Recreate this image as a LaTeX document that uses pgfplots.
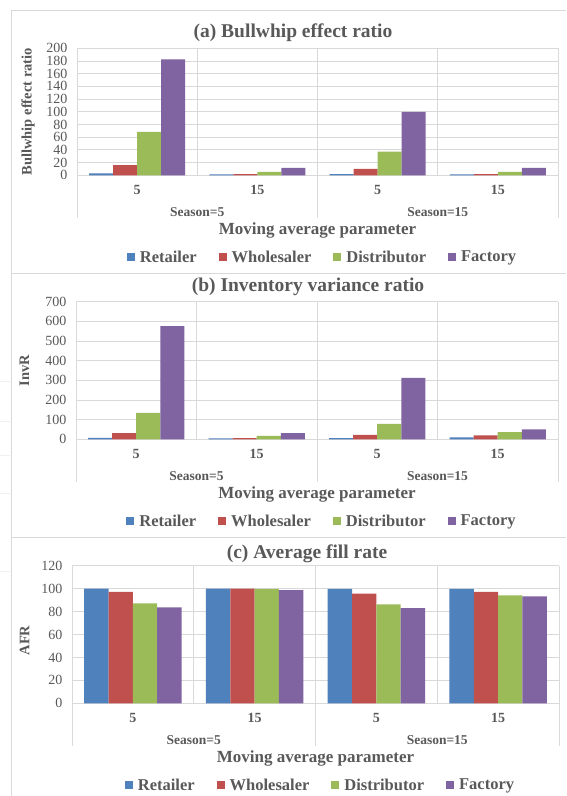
\documentclass[border=0pt]{standalone}
\usepackage{fontspec}
\setmainfont{Liberation Serif}
\usepackage{pgfplots}
\usepackage{pgfplotstable}
\pgfplotsset{compat=1.18}

\definecolor{txt}{HTML}{595959}
\definecolor{gridc}{HTML}{D9D9D9}
\definecolor{framec}{HTML}{D9D9D9}
\definecolor{cret}{HTML}{4F81BD}
\definecolor{cwho}{HTML}{C0504D}
\definecolor{cdis}{HTML}{9BBB59}
\definecolor{cfac}{HTML}{8064A2}

\newcommand{\fs}[1]{\fontsize{#1}{#1}\selectfont}

% columns: category position, retailer, wholesaler, distributor, factory
\pgfplotstableread{
x   ret  who   dis   fac
0.5 3.1  16.2  68.2  182.7
1.5 1.6  2.0   5.2   11.5
2.5 2.0  10.0  37.2  99.7
3.5 1.5  2.0   5.2   11.5
}\bwe
\pgfplotstableread{
x   ret  who  dis  fac
0.5 7    32   134  576
1.5 5    6    17   32
2.5 6    22   78   313
3.5 10   20   36   51
}\invr
\pgfplotstableread{
x   ret   who   dis   fac
0.5 100   97.1  87.2  83.7
1.5 100   100   99.7  98.8
2.5 99.7  95.6  86.3  83.1
3.5 99.7  97.1  94.2  93.3
}\afr

\pgfplotsset{
  panel/.style={
    scale only axis, anchor=south west,
    xmin=0, xmax=4, ymin=0,
    axis line style={draw=none},
    xtick={0.5,1.5,2.5,3.5}, xticklabels={5,15,5,15},
    minor xtick={0,1,2,3,4}, xminorgrids, ymajorgrids,
    grid style={gridc, line width=0.8pt},
    minor grid style={gridc, line width=0.8pt},
    major tick length=0pt, minor tick length=0pt,
    /pgf/number format/assume math mode=true,
    scaled y ticks=false,
    yticklabel style={font=\fs{14}, text=txt, xshift=-6pt},
    xticklabel style={font=\bfseries\fs{14}, text=txt, anchor=center, yshift=-15pt},
    ylabel style={font=\bfseries\fs{14.5}, text=txt, anchor=center},
    xlabel={Moving average parameter},
    xlabel style={font=\bfseries\fs{17}, text=txt, anchor=center,
      at={([yshift=-55pt]axis description cs:0.5,0)}},
    legend columns=4,
    legend style={draw=none, fill=none, anchor=center,
      at={([xshift=5pt, yshift=-82pt]axis description cs:0.5,0)},
      font=\bfseries\fs{16.5}, text=txt,
      /tikz/every odd column/.append style={column sep=3pt},
      /tikz/every even column/.append style={column sep=20pt}},
    legend image code/.code={\fill[#1] (0pt,-3.5pt) rectangle (8pt,4.5pt);},
    clip=false,
  },
  bars/.style={ybar, bar width=0.2, draw=none},
}

% season labels and the long separators of the two-level category axis
\newcommand{\seasons}{%
  \draw[gridc, line width=0.8pt] (axis cs:0,0) -- ++(0pt,-43pt);
  \draw[gridc, line width=0.8pt] (axis cs:2,0) -- ++(0pt,-43pt);
  \draw[gridc, line width=0.8pt] (axis cs:4,0) -- ++(0pt,-43pt);
  \node[font=\bfseries\fs{13.5}, text=txt, yshift=-36.5pt] at (axis cs:1,0) {Season=5};
  \node[font=\bfseries\fs{13.5}, text=txt, yshift=-36.5pt] at (axis cs:3,0) {Season=15};
}

\begin{document}
\begin{tikzpicture}
\useasboundingbox (0pt,0pt) rectangle (566pt,796pt);
\fill[white] (0pt,0pt) rectangle (566pt,796pt);

% faint sheet lines at the left margin
\foreach \yy in {414.3,374.3,341,303,224.3}
  \draw[gray!12, line width=0.8pt] (0pt,\yy pt) -- (10pt,\yy pt);

% panel frames
\draw[framec, line width=1pt] (11pt,785pt) -- (566pt,785pt);
\draw[framec, line width=1.2pt] (11pt,522.5pt) -- (566pt,522.5pt);
\draw[framec, line width=1.2pt] (11pt,258.3pt) -- (566pt,258.3pt);
\draw[framec, line width=1pt] (11pt,785pt) -- (11pt,0pt);

% (a) Bullwhip effect ratio
\begin{axis}[panel, at={(77pt,620.7pt)}, width=481pt, height=127pt,
  ymax=200, ytick distance=20,
  ylabel={Bullwhip effect ratio},
  ylabel style={at={([xshift=-49pt]axis description cs:0,0.5)}}]
\addplot[bars, fill=cret, bar shift=-0.3] table[x=x, y=ret] {\bwe};
\addplot[bars, fill=cwho, bar shift=-0.1] table[x=x, y=who] {\bwe};
\addplot[bars, fill=cdis, bar shift=0.1]  table[x=x, y=dis] {\bwe};
\addplot[bars, fill=cfac, bar shift=0.3]  table[x=x, y=fac] {\bwe};
\legend{Retailer, Wholesaler, Distributor, Factory}
\seasons
\end{axis}
\node[font=\bfseries\fs{19.5}, text=txt] at (293pt,763.7pt) {(a) Bullwhip effect ratio};

% (b) Inventory variance ratio
\begin{axis}[panel, at={(76pt,356.7pt)}, width=482pt, height=137.6pt,
  ymax=700, ytick distance=100,
  ylabel={InvR},
  ylabel style={at={([xshift=-51.5pt]axis description cs:0,0.5)}}]
\addplot[bars, fill=cret, bar shift=-0.3] table[x=x, y=ret] {\invr};
\addplot[bars, fill=cwho, bar shift=-0.1] table[x=x, y=who] {\invr};
\addplot[bars, fill=cdis, bar shift=0.1]  table[x=x, y=dis] {\invr};
\addplot[bars, fill=cfac, bar shift=0.3]  table[x=x, y=fac] {\invr};
\legend{Retailer, Wholesaler, Distributor, Factory}
\seasons
\end{axis}
\node[font=\bfseries\fs{19.5}, text=txt] at (308pt,508.7pt) {(b) Inventory variance ratio};

% (c) Average fill rate
\begin{axis}[panel, at={(72pt,92.7pt)}, width=487pt, height=137.6pt,
  ymax=120, ytick distance=20,
  ylabel={AFR},
  ylabel style={at={([xshift=-47.5pt, yshift=-6pt]axis description cs:0,0.5)}}]
\addplot[bars, fill=cret, bar shift=-0.3] table[x=x, y=ret] {\afr};
\addplot[bars, fill=cwho, bar shift=-0.1] table[x=x, y=who] {\afr};
\addplot[bars, fill=cdis, bar shift=0.1]  table[x=x, y=dis] {\afr};
\addplot[bars, fill=cfac, bar shift=0.3]  table[x=x, y=fac] {\afr};
\legend{Retailer, Wholesaler, Distributor, Factory}
\seasons
\end{axis}
\node[font=\bfseries\fs{19.5}, text=txt] at (307pt,242pt) {(c) Average fill rate};
\end{tikzpicture}
\end{document}
